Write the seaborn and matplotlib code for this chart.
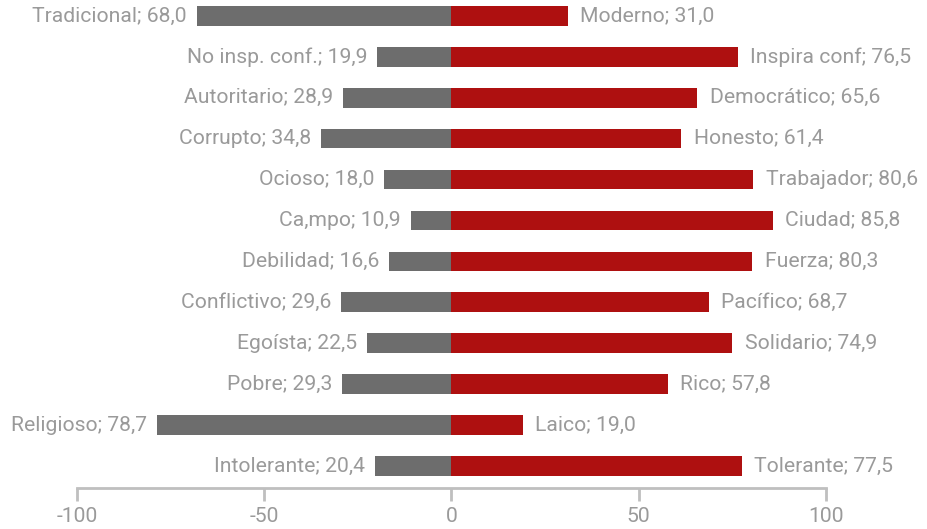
import matplotlib
matplotlib.use("Agg")
import matplotlib.pyplot as plt
import seaborn as sns

# left (negative) side: label + percent
left_labels = ["Tradicional", "No insp. conf.", "Autoritario", "Corrupto", "Ocioso", "Ca,mpo",
               "Debilidad", "Conflictivo", "Egoísta", "Pobre", "Religioso", "Intolerante"]
left_values = [68.0, 19.9, 28.9, 34.8, 18.0, 10.9, 16.6, 29.6, 22.5, 29.3, 78.7, 20.4]

# right (positive) side
right_labels = ["Moderno", "Inspira conf", "Democrático", "Honesto", "Trabajador", "Ciudad",
                "Fuerza", "Pacífico", "Solidario", "Rico", "Laico", "Tolerante"]
right_values = [31.0, 76.5, 65.6, 61.4, 80.6, 85.8, 80.3, 68.7, 74.9, 57.8, 19.0, 77.5]

x_ticks = [-100, -50, 0, 50, 100]

gray = "#6d6d6d"
red = "#ae1010"
text_col = "#9a9a9a"

sns.set_style("white")
plt.rcParams["font.family"] = ["Roboto", "DejaVu Sans"]

fig = plt.figure(figsize=(9.28, 5.29), dpi=100)
ax = fig.add_axes([77 / 928, 1 - 488 / 529, (826 - 77) / 928, 488 / 529])

rows = [str(i) for i in range(len(left_values))]
sns.barplot(x=[-v for v in left_values], y=rows, orient="h", color=gray,
            width=0.48, saturation=1, linewidth=0, ax=ax)
sns.barplot(x=right_values, y=rows, orient="h", color=red,
            width=0.48, saturation=1, linewidth=0, ax=ax)

def fmt(v):
    return f"{v:.1f}".replace(".", ",")

for i, (lab, v) in enumerate(zip(left_labels, left_values)):
    ax.annotate(f"{lab}; {fmt(v)}", xy=(-v, i), xytext=(-7, 0), textcoords="offset points",
                ha="right", va="center", fontsize=15.2, color=text_col)
for i, (lab, v) in enumerate(zip(right_labels, right_values)):
    ax.annotate(f"{lab}; {fmt(v)}", xy=(v, i), xytext=(9, 0), textcoords="offset points",
                ha="left", va="center", fontsize=15.2, color=text_col)

ax.set_xlim(-100, 100)
ax.set_ylim(11.54, -0.39)
ax.set_xticks(x_ticks)
ax.set_xticklabels([str(t) for t in x_ticks], fontsize=15.2, color=text_col)
ax.set_yticks([])
ax.set_xlabel("")
ax.set_ylabel("")
for s in ["top", "left", "right"]:
    ax.spines[s].set_visible(False)
ax.spines["bottom"].set_color("#bfbfbf")
ax.spines["bottom"].set_linewidth(2)
ax.tick_params(axis="x", length=9, width=2, color="#bfbfbf", pad=5, bottom=True)

fig.savefig("out.png", dpi=100)
